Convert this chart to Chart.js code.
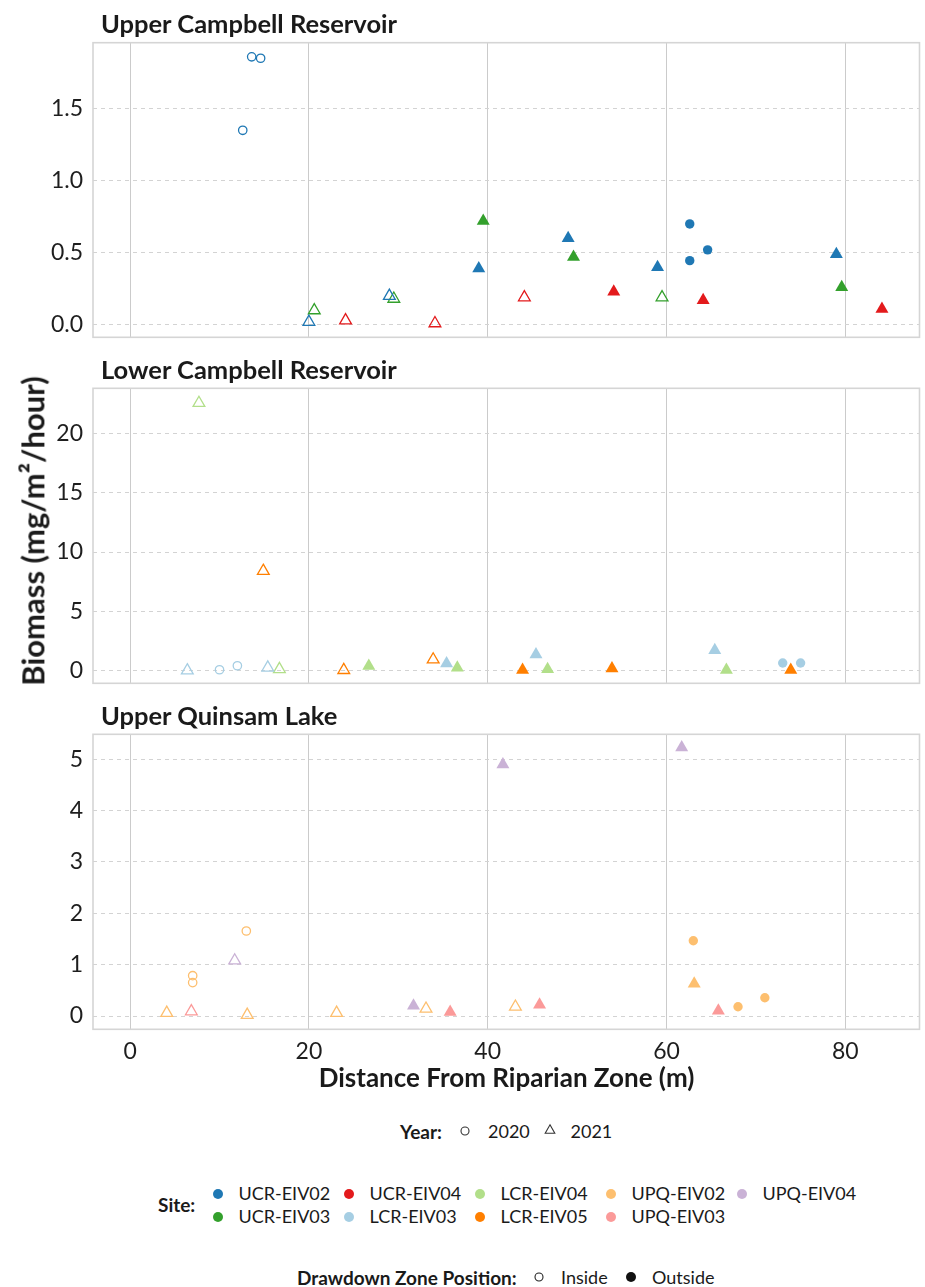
<!DOCTYPE html>
<html>
<head>
<meta charset="utf-8">
<script src="https://cdn.jsdelivr.net/npm/chart.js@4.4.0/dist/chart.umd.min.js"></script>
<style>
  body { margin: 0; width: 925px; height: 1287px; position: relative; background: #fff;
         font-family: Lato, sans-serif; color: #1a1a1a; overflow: hidden; }
  canvas { position: absolute; left: 0; }
  .txt { position: absolute; white-space: nowrap; line-height: 1.2; }
  .b { font-weight: 700; }
  svg { position: absolute; overflow: visible; }
</style>
</head>
<body>

<canvas id="ucr" width="925" height="300"></canvas>
<canvas id="lcr" width="925" height="300"></canvas>
<canvas id="upq" width="925" height="340"></canvas>

<script>
// sites and their colours (Paired palette)
const siteNames = ['UCR-EIV02', 'UCR-EIV03', 'UCR-EIV04', 'LCR-EIV03', 'LCR-EIV04',
                   'LCR-EIV05', 'UPQ-EIV02', 'UPQ-EIV03', 'UPQ-EIV04'];
const siteColors = ['#1F78B4', '#33A02C', '#E31A1C', '#A6CEE3', '#B2DF8A',
                    '#FF7F00', '#FDBF6F', '#FB9A99', '#CAB2D6'];

const xTicks = [0, 20, 40, 60, 80];

// Upper Campbell Reservoir
const ucrSite = ['UCR-EIV02','UCR-EIV02','UCR-EIV02','UCR-EIV02','UCR-EIV03','UCR-EIV04',
                 'UCR-EIV02','UCR-EIV03','UCR-EIV04','UCR-EIV03','UCR-EIV02','UCR-EIV04',
                 'UCR-EIV02','UCR-EIV03','UCR-EIV04','UCR-EIV02','UCR-EIV03','UCR-EIV02',
                 'UCR-EIV02','UCR-EIV02','UCR-EIV04','UCR-EIV02','UCR-EIV03','UCR-EIV04'];
const ucrDist = [13.6, 14.6, 12.6, 20.0, 20.6, 24.1, 29.0, 29.5, 34.1, 39.5, 39.0, 44.1,
                 49.0, 49.6, 54.1, 59.0, 59.5, 62.6, 62.6, 64.6, 64.1, 79.0, 79.6, 84.1];
const ucrBiomass = [1.86, 1.85, 1.35, 0.02, 0.10, 0.03, 0.20, 0.18, 0.01, 0.72, 0.39, 0.19,
                    0.60, 0.47, 0.23, 0.40, 0.19, 0.70, 0.445, 0.52, 0.17, 0.49, 0.26, 0.11];
const ucrYear = [2020, 2020, 2020, 2021, 2021, 2021, 2021, 2021, 2021, 2021, 2021, 2021,
                 2021, 2021, 2021, 2021, 2021, 2020, 2020, 2020, 2021, 2021, 2021, 2021];
const ucrZone = ['Inside','Inside','Inside','Inside','Inside','Inside','Inside','Inside',
                 'Inside','Outside','Outside','Inside','Outside','Outside','Outside','Outside',
                 'Inside','Outside','Outside','Outside','Outside','Outside','Outside','Outside'];
const ucrTicks = [0, 0.5, 1.0, 1.5];

// Lower Campbell Reservoir
const lcrSite = ['LCR-EIV04','LCR-EIV05','LCR-EIV03','LCR-EIV03','LCR-EIV03','LCR-EIV03',
                 'LCR-EIV04','LCR-EIV05','LCR-EIV04','LCR-EIV05','LCR-EIV03','LCR-EIV04',
                 'LCR-EIV05','LCR-EIV03','LCR-EIV04','LCR-EIV05','LCR-EIV03','LCR-EIV04',
                 'LCR-EIV03','LCR-EIV03','LCR-EIV05'];
const lcrDist = [7.7, 14.9, 6.4, 10.0, 12.0, 15.4, 16.7, 23.9, 26.7, 33.9, 35.4, 36.6,
                 43.9, 45.4, 46.7, 53.9, 65.4, 66.7, 73.0, 75.0, 73.9];
const lcrBiomass = [22.55, 8.4, 0.02, 0.08, 0.42, 0.26, 0.13, 0.05, 0.40, 0.94, 0.60, 0.24,
                    0.05, 1.36, 0.13, 0.18, 1.73, 0.07, 0.65, 0.65, 0.05];
const lcrYear = [2021, 2021, 2021, 2020, 2020, 2021, 2021, 2021, 2021, 2021, 2021, 2021,
                 2021, 2021, 2021, 2021, 2021, 2021, 2020, 2020, 2021];
const lcrZone = ['Inside','Inside','Inside','Inside','Inside','Inside','Inside','Inside',
                 'Outside','Inside','Outside','Outside','Outside','Outside','Outside','Outside',
                 'Outside','Outside','Outside','Outside','Outside'];
const lcrTicks = [0, 5, 10, 15, 20];

// Upper Quinsam Lake
const upqSite = ['UPQ-EIV02','UPQ-EIV03','UPQ-EIV02','UPQ-EIV02','UPQ-EIV04','UPQ-EIV02',
                 'UPQ-EIV02','UPQ-EIV02','UPQ-EIV04','UPQ-EIV02','UPQ-EIV03','UPQ-EIV04',
                 'UPQ-EIV02','UPQ-EIV03','UPQ-EIV04','UPQ-EIV02','UPQ-EIV02','UPQ-EIV03',
                 'UPQ-EIV02','UPQ-EIV02'];
const upqDist = [4.1, 6.85, 7.0, 7.0, 11.7, 13.0, 13.1, 23.1, 31.7, 33.1, 35.8, 41.7,
                 43.1, 45.8, 61.7, 63.0, 63.1, 65.8, 68.0, 71.0];
const upqBiomass = [0.06, 0.09, 0.785, 0.65, 1.08, 1.655, 0.02, 0.06, 0.20, 0.14, 0.08, 4.90,
                    0.18, 0.22, 5.23, 1.466, 0.63, 0.10, 0.18, 0.356];
const upqYear = [2021, 2021, 2020, 2020, 2021, 2020, 2021, 2021, 2021, 2021, 2021, 2021,
                 2021, 2021, 2021, 2020, 2021, 2021, 2020, 2020];
const upqZone = ['Inside','Inside','Inside','Inside','Inside','Inside','Inside','Inside',
                 'Outside','Inside','Outside','Outside','Inside','Outside','Outside','Outside',
                 'Outside','Outside','Outside','Outside'];
const upqTicks = [0, 1, 2, 3, 4, 5];

const tickFont = { family: 'Lato', size: 23 };
const tickColor = '#1e1e1e';

// one dataset per site, shape from year, fill from drawdown zone
function siteDatasets(sites, dist, biomass, year, zone) {
  return siteNames.filter(n => sites.includes(n)).map(name => {
    const idx = sites.map((s, i) => s === name ? i : -1).filter(i => i >= 0);
    const col = siteColors[siteNames.indexOf(name)];
    return {
      label: name,
      data: idx.map(i => ({ x: dist[i], y: biomass[i] })),
      pointStyle: idx.map(i => year[i] === 2020 ? 'circle' : 'triangle'),
      pointRadius: idx.map(i => {
        const out = zone[i] === 'Outside';
        if (year[i] === 2020) return out ? 4.7 : 4.2;
        return out ? 7.5 : 6.8;
      }),
      pointBackgroundColor: idx.map(i => zone[i] === 'Outside' ? col : 'rgba(0,0,0,0)'),
      pointBorderColor: col,
      pointBorderWidth: idx.map(i => zone[i] === 'Outside' ? 0 : 1.3),
      showLine: false
    };
  });
}

const panelFrame = {
  id: 'panelFrame',
  beforeDatasetsDraw(chart) {
    const { ctx, chartArea: a } = chart;
    ctx.save();
    ctx.strokeStyle = '#d5d5d5';
    ctx.lineWidth = 1.6;
    ctx.strokeRect(a.left, a.top, a.right - a.left, a.bottom - a.top);
    ctx.restore();
  }
};

// areaTop/areaBottom are the page y of the plotting panel
function makePanel(id, areaTop, areaBottom, yMin, yMax, yTicks, yFmt, datasets, showX) {
  const cv = document.getElementById(id);
  const canvasTop = Math.floor(areaTop) - 4;
  const xHeight = showX ? 38 : 0;
  cv.style.top = canvasTop + 'px';
  cv.height = Math.ceil(areaBottom - canvasTop + (showX ? xHeight : 4));
  return new Chart(cv, {
    type: 'scatter',
    data: { datasets: datasets },
    options: {
      responsive: false,
      animation: false,
      events: [],
      layout: {
        autoPadding: false,
        padding: { left: 0, right: 5.5, top: areaTop - canvasTop,
                   bottom: cv.height - (areaBottom - canvasTop) - xHeight }
      },
      plugins: { legend: { display: false }, tooltip: { enabled: false } },
      scales: {
        x: {
          type: 'linear', min: -4.15, max: 88.3,
          afterBuildTicks: s => { s.ticks = xTicks.map(v => ({ value: v })); },
          afterFit: s => { s.height = xHeight; s.paddingLeft = 0; s.paddingRight = 0; },
          grid: { color: '#cbcbcb', lineWidth: 1, drawTicks: false },
          border: { display: false },
          ticks: { display: showX, font: tickFont, color: tickColor, padding: 8, maxRotation: 0 }
        },
        y: {
          type: 'linear', min: yMin, max: yMax,
          afterBuildTicks: s => { s.ticks = yTicks.map(v => ({ value: v })); },
          afterFit: s => { s.width = 93; s.paddingTop = 0; s.paddingBottom = 0; },
          grid: { color: '#d3d3d3', lineWidth: 1, drawTicks: false },
          border: { display: false, dash: [4, 4] },
          ticks: { font: tickFont, color: tickColor, padding: 10, callback: yFmt }
        }
      }
    },
    plugins: [panelFrame]
  });
}

makePanel('ucr', 42.7, 337.3, -0.087, 1.958, ucrTicks, v => v.toFixed(1),
          siteDatasets(ucrSite, ucrDist, ucrBiomass, ucrYear, ucrZone), false);
makePanel('lcr', 388.3, 683.3, -1.06, 23.79, lcrTicks, v => String(v),
          siteDatasets(lcrSite, lcrDist, lcrBiomass, lcrYear, lcrZone), false);
makePanel('upq', 734.3, 1029.3, -0.259, 5.486, upqTicks, v => String(v),
          siteDatasets(upqSite, upqDist, upqBiomass, upqYear, upqZone), true);

// text placed by the vertical centre of its capitals
function addText(str, left, cy, size, cls) {
  const d = document.createElement('div');
  d.className = 'txt ' + (cls || '');
  d.textContent = str;
  d.style.fontSize = size + 'px';
  d.style.left = left + 'px';
  d.style.top = (cy - 0.6 * size) + 'px';
  document.body.appendChild(d);
  return d;
}

function addMarker(kind, cx, cy, color, filled) {
  const ns = 'http://www.w3.org/2000/svg';
  const s = document.createElementNS(ns, 'svg');
  s.setAttribute('width', 12); s.setAttribute('height', 12);
  s.style.left = (cx - 6) + 'px'; s.style.top = (cy - 6) + 'px';
  let m;
  if (kind === 'circle') {
    m = document.createElementNS(ns, 'circle');
    m.setAttribute('cx', 6); m.setAttribute('cy', 6); m.setAttribute('r', filled ? 5 : 4);
  } else {
    m = document.createElementNS(ns, 'polygon');
    m.setAttribute('points', '6,0.8 10.8,9.2 1.2,9.2');
  }
  m.setAttribute('fill', filled ? color : 'none');
  m.setAttribute('stroke', filled ? 'none' : color);
  m.setAttribute('stroke-width', 1.1);
  s.appendChild(m);
  document.body.appendChild(s);
}

addText('Upper Campbell Reservoir', 101, 23.7, 25.5, 'b');
addText('Lower Campbell Reservoir', 101, 369.3, 25.5, 'b');
addText('Upper Quinsam Lake', 101, 715.3, 25.5, 'b');

const yTitle = addText('Biomass (mg/m²/hour)', 0, 0, 31, 'b');
yTitle.style.left = '33px';
yTitle.style.top = '531px';
yTitle.style.transform = 'translate(-50%, -50%) rotate(-90deg)';

const xTitle = addText('Distance From Riparian Zone (m)', 0, 1078, 26, 'b');
xTitle.style.left = '506.5px';
xTitle.style.transform = 'translateX(-50%)';

// legends
const legSize = 18, legTitle = 19;
addText('Year:', 400, 1132, legTitle, 'b');
addMarker('circle', 465, 1131, '#333', false);
addText('2020', 488, 1132, legSize);
addMarker('triangle', 550, 1130, '#333', false);
addText('2021', 570.5, 1132, legSize);

addText('Site:', 158, 1205.5, legTitle, 'b');
const legOrder = ['UCR-EIV02', 'UCR-EIV03', 'UCR-EIV04', 'LCR-EIV03', 'LCR-EIV04',
                  'LCR-EIV05', 'UPQ-EIV02', 'UPQ-EIV03', 'UPQ-EIV04'];
legOrder.forEach((name, k) => {
  const col = Math.floor(k / 2), row = k % 2;
  const cx = 217.5 + col * 131;
  const cy = row === 0 ? 1194 : 1216.7;
  addMarker('circle', cx, cy, siteColors[siteNames.indexOf(name)], true);
  addText(name, cx + 21, cy, legSize);
});

addText('Drawdown Zone Position:', 297, 1278, legTitle, 'b');
addMarker('circle', 539, 1277, '#222', false);
addText('Inside', 561, 1278, legSize);
addMarker('circle', 631, 1277, '#111', true);
addText('Outside', 652, 1278, legSize);
</script>
</body>
</html>
